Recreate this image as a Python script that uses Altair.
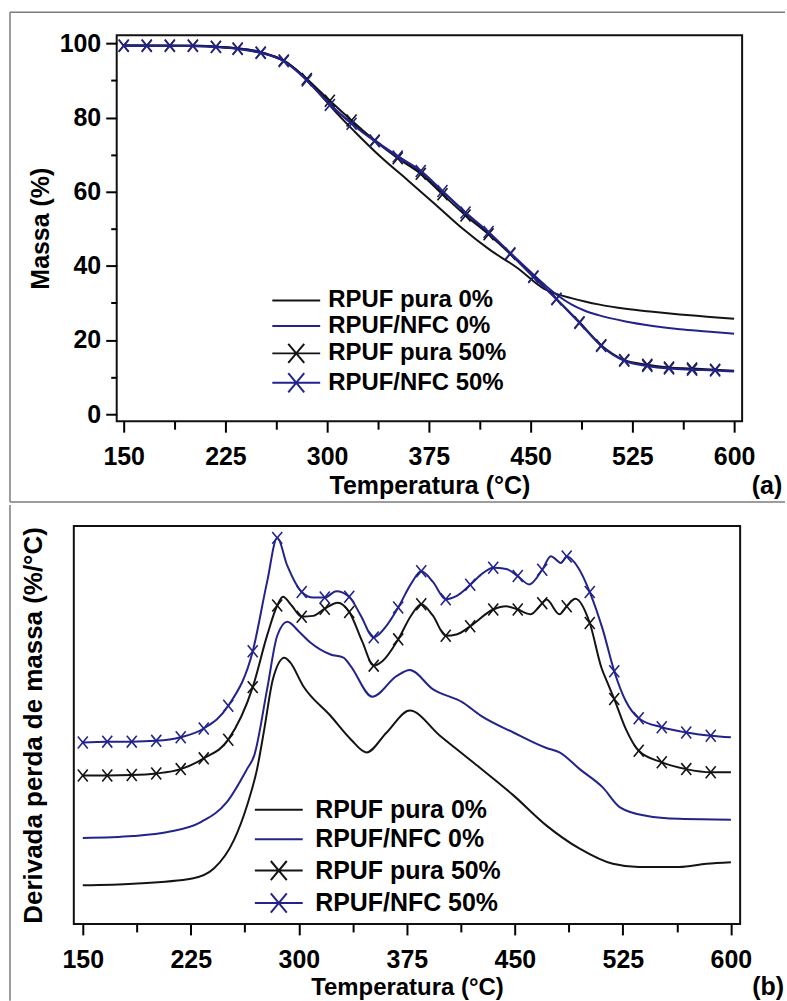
import altair as alt
import pandas as pd

# ---------------- shared definitions ----------------
NAMES = ["RPUF pura 0%", "RPUF/NFC 0%", "RPUF pura 50%", "RPUF/NFC 50%"]
COLORS = ["#141414", "#23238c", "#141414", "#23238c"]
MARKER_T = [150, 167, 184, 201, 218, 234, 251, 268, 285, 302, 318, 335, 352, 369,
            385, 402, 419, 435, 452, 469, 486, 502, 519, 536, 552, 569, 586]
X_TICKS = [150, 187.5, 225, 262.5, 300, 337.5, 375, 412.5, 450, 487.5, 525, 562.5, 600]
Y_TICKS_A = [0, 10, 20, 30, 40, 50, 60, 70, 80, 90, 100]

# ---------------- panel (a): TGA, mass % ----------------
T_a0 = [150, 200, 240, 255, 265, 275, 285, 295, 305, 320, 340, 360, 380, 400,
        420, 440, 460, 470, 480, 490, 500, 520, 540, 560, 580, 600]
pura0_a = [99.4, 99.3, 98.4, 97.2, 95.8, 93.5, 90.2, 86.2, 82.0, 76.3, 69.2, 62.9,
           56.5, 50.0, 44.3, 39.5, 33.8, 32.3, 31.3, 30.4, 29.6, 28.4, 27.6, 26.9, 26.3, 25.7]
nfc0_a = [99.4, 99.3, 98.4, 97.2, 95.8, 93.5, 90.3, 86.5, 82.6, 78.0, 72.6, 67.6,
          61.6, 55.0, 48.4, 41.8, 35.0, 32.0, 29.6, 27.9, 26.7, 25.0, 23.8, 22.9, 22.3, 21.7]
T_a50 = MARKER_T + [600]
pura50_a = [99.4, 99.4, 99.4, 99.4, 99.1, 98.6, 97.5, 95.4, 90.4, 84.5, 79.2, 73.8, 69.0, 64.8,
            59.3, 53.6, 48.5, 43.2, 37.1, 31.1, 24.8, 18.6, 14.6, 13.3, 12.6, 12.3, 12.0, 11.7]
nfc50_a = [99.3, 99.3, 99.3, 99.3, 99.0, 98.5, 97.4, 95.2, 90.0, 83.4, 78.3, 73.6, 69.5, 65.6,
           60.2, 54.4, 49.1, 43.4, 37.0, 31.0, 24.6, 18.4, 14.4, 13.0, 12.3, 12.0, 11.8, 11.5]

# ---------------- panel (b): DTG (arbitrary units, offset curves) ----------------
T_b0k = [150, 185, 226, 241, 255, 264, 271, 276, 282, 290, 294, 303, 322, 336, 347, 361,
         377, 398, 421, 449, 472, 495, 518, 536, 564, 583, 600]
pura0_b = [9.7, 10.1, 11.4, 13.9, 21.1, 29.7, 38.9, 48.9, 61.5, 66.9, 65.7, 59.8, 52.3, 46.4,
           43.1, 48.1, 53.6, 47.3, 40.6, 32.3, 24.7, 18.9, 15.1, 14.3, 14.3, 15.1, 15.5]
T_b0b = [150, 185, 209, 232, 250, 264, 269, 278, 285, 292, 300, 308, 322, 331, 336, 351,
         368, 377, 393, 414, 426, 449, 472, 481, 495, 511, 523, 541, 564, 600]
nfc0_b = [21.6, 22.1, 23.1, 25.6, 30.6, 38.9, 42.3, 59.0, 72.4, 75.9, 73.5, 70.7, 67.7, 66.9,
          64.8, 57.1, 62.3, 63.8, 59.0, 55.6, 52.4, 48.1, 44.2, 43.1, 38.9, 34.3, 29.3, 27.2,
          26.4, 26.2]
T_b50k = [150, 167, 184, 201, 218, 234, 251, 268, 278, 285, 289, 295, 302, 310, 318, 327,
          335, 344, 352, 358, 369, 378, 385, 393, 402, 410, 419, 435, 444, 452, 461, 469,
          472, 481, 486, 492, 502, 510, 515, 519, 527, 536, 552, 569, 586, 600]
pura50_b = [37.3, 37.3, 37.4, 37.8, 38.9, 41.6, 46.3, 59.5, 72.5, 80.0, 82.2, 80.0, 77.2, 77.4,
            79.2, 80.7, 78.4, 71.0, 64.9, 66.0, 71.5, 77.5, 80.3, 77.5, 72.4, 72.8, 74.8, 79.0,
            79.8, 79.0, 77.8, 80.6, 81.5, 77.8, 79.8, 81.7, 75.6, 64.5, 60.0, 56.5, 49.0, 43.5,
            40.6, 38.9, 38.1, 38.1]
T_b50b = [150, 167, 184, 201, 218, 234, 251, 268, 278, 285, 292, 302, 310, 318, 326, 335,
          343, 352, 360, 369, 378, 385, 393, 402, 410, 419, 428, 435, 444, 452, 460, 469,
          475, 482, 486, 494, 502, 511, 519, 527, 536, 552, 569, 586, 600]
nfc50_b = [45.6, 45.8, 45.8, 46.0, 46.9, 49.1, 54.8, 68.5, 86.0, 97.0, 90.0, 83.4, 82.0, 82.0,
           83.6, 82.2, 77.5, 72.0, 74.5, 79.5, 85.5, 88.6, 86.0, 81.6, 82.5, 85.2, 88.2, 89.5,
           89.2, 87.4, 85.3, 89.0, 92.4, 90.7, 92.3, 89.5, 83.4, 74.0, 63.5, 56.0, 51.7, 49.4,
           48.1, 47.3, 46.9]

FONT = "Liberation Sans"
GRAY = "#7d7d7d"
LINE_SYM = "M-1,0L5,0"
LINEX_SYM = "M-1,0L5,0M1.0,-1.2L3.0,1.2M1.0,1.2L3.0,-1.2"
X_MARK = "M-1,-1.2L1,1.2M-1,1.2L1,-1.2"


def x_axis(label_pad, title_pad, title_size):
    return alt.Axis(values=X_TICKS, title="Temperatura (°C)",
                    labelExpr="datum.value % 75 == 0 ? datum.label : ''",
                    tickSize={"condition": {"test": "datum.value % 75 != 0", "value": 8}, "value": 11},
                    labelPadding=label_pad, titlePadding=title_pad, titleFontSize=title_size,
                    labelFlush=False, labelOverlap=False, grid=False, domain=False)


def make_panel(series, xdom, xrange, ydom, xax, yax, legend, w, h, deco, frame, tag, tag_xy):
    sx = alt.Scale(domain=xdom, range=xrange, nice=False, zero=False)
    sy = alt.Scale(domain=ydom, nice=False, zero=False)
    x = alt.X("T:Q", scale=sx, axis=xax)
    y = alt.Y("v:Q", scale=sy, axis=yax)
    one = pd.DataFrame({"k": [0]})
    layers = []
    for (x1, y1, x2, y2) in deco:
        enc = {"x": alt.value(x1), "y": alt.value(y1)}
        if x1 == x2:
            enc["y2"] = alt.value(y2)
        else:
            enc["x2"] = alt.value(x2)
        layers.append(alt.Chart(one).mark_rule(color=GRAY, strokeWidth=1.5, clip=False).encode(**enc))
    if frame is not None:
        layers.append(alt.Chart(one).mark_rect(filled=False, stroke="#111111", strokeWidth=2,
                                               fillOpacity=0).encode(
            x=alt.value(frame[0]), x2=alt.value(frame[1]),
            y=alt.value(0), y2=alt.value(h)))
    # legend carrier (no drawable rows: positions are null)
    leg_df = pd.DataFrame({"serie": NAMES, "T": [None] * 4, "v": [None] * 4})
    layers.append(alt.Chart(leg_df).mark_point(filled=False, opacity=1, strokeWidth=2).encode(
        x=x, y=y,
        color=alt.Color("serie:N", scale=alt.Scale(domain=NAMES, range=COLORS), legend=legend),
        shape=alt.Shape("serie:N", scale=alt.Scale(domain=NAMES,
                                                   range=[LINE_SYM, LINE_SYM, LINEX_SYM, LINEX_SYM]),
                        legend=legend)))
    for i, (name, ts, vs) in enumerate(series):
        df = pd.DataFrame({"T": ts, "v": vs})
        layers.append(alt.Chart(df).mark_line(strokeWidth=2, interpolate="monotone",
                                              color=COLORS[i]).encode(x=x, y=y))
        if i >= 2:
            mk = df[df["T"].isin(MARKER_T)]
            layers.append(alt.Chart(mk).mark_point(shape=X_MARK, filled=False, size=100,
                                                   strokeWidth=1.6, opacity=1,
                                                   color=COLORS[i]).encode(x=x, y=y))
    layers.append(alt.Chart(pd.DataFrame({"t": [tag]})).mark_text(
        font=FONT, fontSize=25, fontWeight="bold", color="black",
        align="center", baseline="middle").encode(
        text="t:N", x=alt.value(tag_xy[0]), y=alt.value(tag_xy[1])))
    return alt.layer(*layers).properties(width=w, height=h)


legend_a = alt.Legend(orient="none", legendX=152, legendY=254, title=None, direction="vertical",
                      labelFont=FONT, labelFontSize=24, labelFontWeight="bold", labelColor="black",
                      labelOffset=36, rowPadding=1.5, symbolSize=256, labelLimit=400, padding=0,
                      symbolStrokeWidth=2, symbolOpacity=1)
legend_b = alt.Legend(orient="none", legendX=134, legendY=272, title=None, direction="vertical",
                      labelFont=FONT, labelFontSize=25, labelFontWeight="bold", labelColor="black",
                      labelOffset=40, rowPadding=3.5, symbolSize=256, labelLimit=400, padding=0,
                      symbolStrokeWidth=2, symbolOpacity=1)

y_axis_a = alt.Axis(values=Y_TICKS_A, title="Massa (%)",
                    labelExpr="datum.value % 20 == 0 ? datum.label : ''",
                    tickSize={"condition": {"test": "datum.value % 20 != 0", "value": 6}, "value": 11},
                    labelPadding=5, titlePadding=6, labelOverlap=False, labelFlush=False,
                    grid=False, domain=False)
y_axis_b = alt.Axis(labels=False, ticks=False, domain=False, grid=False, offset=43,
                    title="Derivada perda de massa (%/°C)", titlePadding=27, titleFontSize=26)

panel_a = make_panel([(NAMES[0], T_a0, pura0_a), (NAMES[1], T_a0, nfc0_a),
                      (NAMES[2], T_a50, pura50_a), (NAMES[3], T_a50, nfc50_a)],
                     [144.85, 605.9], [0, 627], [-1.9, 102.2], x_axis(12, 4, 25), y_axis_a, legend_a,
                     627, 387,
                     deco=[(-107, -23, 670, -23), (-107, -23, -107, 468), (-107, 468, 670, 468)],
                     frame=None, tag="(a)", tag_xy=(652, 452))
panel_b = make_panel([(NAMES[0], T_b0k, pura0_b), (NAMES[1], T_b0b, nfc0_b),
                      (NAMES[2], T_b50k, pura50_b), (NAMES[3], T_b50b, nfc50_b)],
                     [143.77, 606.4], [-43, 625], [0, 100], x_axis(13, 3, 24), y_axis_b, legend_b,
                     625, 399,
                     deco=[(-107, -21, -107, 476)],
                     frame=(-43, 625), tag="(b)", tag_xy=(653, 462)).properties(
    view=alt.ViewBackground(strokeOpacity=0))

chart = alt.concat(panel_a, panel_b, columns=1, spacing=0,
                   align=alt.RowColLayoutAlign(row="none", column="all")).resolve_scale(
    x="independent", y="independent", color="independent", shape="independent"
).resolve_legend(color="independent", shape="independent").properties(
    padding={"left": 8, "top": 9, "right": 0, "bottom": 0}
).configure(font=FONT).configure_view(
    stroke="#111111", strokeWidth=2
).configure_axis(
    labelFont=FONT, labelFontSize=25, labelFontWeight="bold", labelColor="black",
    titleFont=FONT, titleFontSize=25, titleFontWeight="bold", titleColor="black",
    tickColor="black", tickWidth=2
)

chart.save("out.html", embed_options={"renderer": "svg", "actions": False})
